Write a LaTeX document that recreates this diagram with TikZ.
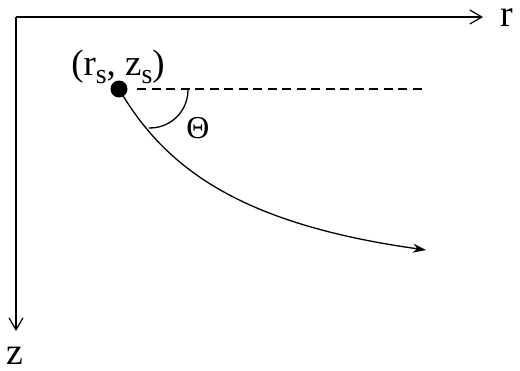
\documentclass[tikz,border=0pt]{standalone}
\usepackage{fontspec}
\setmainfont{Liberation Serif}
\usetikzlibrary{arrows.meta}
\begin{document}
\begin{tikzpicture}[x=1bp,y=-1bp,
  axis/.style={line width=1.2bp,-{Straight Barb[length=12bp,width=14bp,line width=1.2bp]}},
  lbl/.style={inner sep=0pt,font=\fontsize{38}{38}\selectfont,text height=0.47em,text depth=0pt},
  ray/.style={line width=1.3bp,-{Stealth[length=13bp,width=9bp]}}]
\useasboundingbox (0,0) rectangle (520,370);
\coordinate (O) at (16,17);
\coordinate (rend) at (483,17);
\coordinate (zend) at (16,331);
\draw[axis] (O) -- (rend);
\draw[axis] (O) -- (zend);
\node[lbl,anchor=base] (r) at (507,26) {r};
\node[lbl,anchor=base] (z) at (15,364) {z};
\node[circle,fill=black,inner sep=0pt,minimum size=17bp] (src) at (119,89) {};
\node[inner sep=0pt,font=\fontsize{37}{37}\selectfont,anchor=base] (srclbl) at (118,75) {(r\raisebox{-0.22em}{\fontsize{28}{28}\selectfont s}, z\raisebox{-0.22em}{\fontsize{28}{28}\selectfont s})};
\coordinate (dashend) at (424,89);
\draw[line width=1.2bp,dash pattern=on 9bp off 5.5bp] ([xshift=18bp]src.center) -- (dashend);
\draw[line width=1.3bp] (188,90) arc[start angle=0,end angle=92,radius=38];
\node[inner sep=0pt,font=\fontsize{32}{32}\selectfont] (theta) at (198,128) {Θ};
\coordinate (tip) at (426,250);
\draw[ray] (src.center) .. controls (165,168) and (240,224) .. (tip);
\end{tikzpicture}
\end{document}
